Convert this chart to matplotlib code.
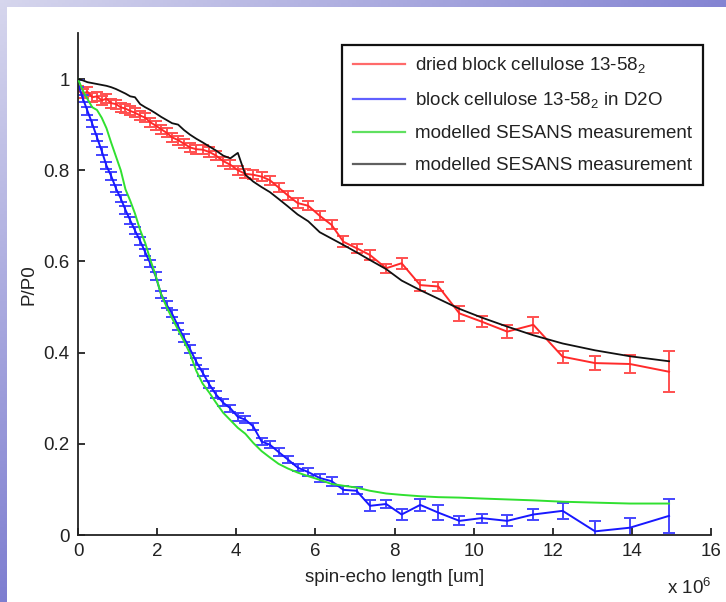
import numpy as np
import matplotlib
matplotlib.use("Agg")
import matplotlib.pyplot as plt
from matplotlib.lines import Line2D

plt.rcParams['font.family'] = ['Liberation Sans', 'DejaVu Sans']
plt.rcParams['mathtext.fontset'] = 'custom'
plt.rcParams['mathtext.rm'] = 'Liberation Sans'
plt.rcParams['mathtext.it'] = 'Liberation Sans:italic'

# spin-echo length, in units of 10^6
spin_echo = [0.00, 0.12, 0.24, 0.36, 0.48, 0.60, 0.72, 0.84, 0.96, 1.08,
             1.20, 1.32, 1.44, 1.57, 1.70, 1.83, 1.96, 2.10, 2.24, 2.38,
             2.53, 2.68, 2.83, 2.99, 3.15, 3.32, 3.49, 3.67, 3.85, 4.04,
             4.23, 4.43, 4.64, 4.85, 5.07, 5.30, 5.55, 5.82, 6.11, 6.41,
             6.71, 7.04, 7.38, 7.79, 8.18, 8.65, 9.11, 9.64, 10.20, 10.85,
             11.51, 12.25, 13.07, 13.95, 14.94]

dried = [0.975, 0.968, 0.972, 0.960, 0.962, 0.953, 0.957, 0.947, 0.945, 0.938,
         0.935, 0.930, 0.926, 0.920, 0.915, 0.905, 0.898, 0.890, 0.882, 0.872,
         0.866, 0.858, 0.850, 0.846, 0.845, 0.840, 0.832, 0.820, 0.812, 0.800,
         0.792, 0.790, 0.786, 0.778, 0.762, 0.745, 0.728, 0.722, 0.700, 0.680,
         0.643, 0.629, 0.614, 0.585, 0.596, 0.548, 0.545, 0.486, 0.468, 0.446,
         0.461, 0.391, 0.377, 0.375, 0.358]
dried_err = [0.010] * 39 + [0.010, 0.012, 0.010, 0.012, 0.010, 0.012, 0.012,
                            0.010, 0.016, 0.012, 0.015, 0.018, 0.013, 0.015,
                            0.020, 0.045]

wet = [0.990, 0.958, 0.930, 0.902, 0.872, 0.842, 0.810, 0.787, 0.760, 0.738,
       0.713, 0.690, 0.668, 0.645, 0.620, 0.595, 0.568, 0.528, 0.505, 0.485,
       0.458, 0.432, 0.408, 0.380, 0.356, 0.330, 0.308, 0.290, 0.278, 0.259,
       0.253, 0.238, 0.205, 0.198, 0.182, 0.166, 0.148, 0.138, 0.125, 0.118,
       0.099, 0.097, 0.064, 0.068, 0.045, 0.066, 0.049, 0.031, 0.037, 0.031,
       0.045, 0.053, 0.008, 0.016, 0.042]
wet_err = [0.008] * 39 + [0.010, 0.008, 0.008, 0.012, 0.008, 0.012, 0.013,
                          0.016, 0.010, 0.010, 0.012, 0.013, 0.017, 0.022,
                          0.021, 0.037]

model_wet = [1.000, 0.975, 0.956, 0.938, 0.932, 0.915, 0.892, 0.860, 0.830, 0.800,
             0.758, 0.733, 0.705, 0.669, 0.640, 0.603, 0.570, 0.528, 0.500, 0.475,
             0.450, 0.425, 0.398, 0.360, 0.332, 0.312, 0.290, 0.268, 0.252, 0.235,
             0.222, 0.202, 0.184, 0.170, 0.156, 0.146, 0.137, 0.129, 0.121, 0.112,
             0.108, 0.104, 0.097, 0.091, 0.088, 0.085, 0.083, 0.082, 0.080, 0.078,
             0.076, 0.073, 0.071, 0.069, 0.069]

model_dried = [1.000, 0.997, 0.993, 0.991, 0.989, 0.987, 0.985, 0.982, 0.978, 0.973,
               0.968, 0.962, 0.960, 0.945, 0.938, 0.932, 0.925, 0.917, 0.910, 0.903,
               0.900, 0.888, 0.878, 0.869, 0.861, 0.852, 0.843, 0.832, 0.826, 0.838,
               0.790, 0.775, 0.763, 0.752, 0.737, 0.721, 0.703, 0.688, 0.664, 0.650,
               0.636, 0.620, 0.603, 0.583, 0.558, 0.537, 0.518, 0.496, 0.477, 0.457,
               0.438, 0.420, 0.405, 0.392, 0.381]

labels = ['dried block cellulose 13-58$\\mathregular{_2}$',
          'block cellulose 13-58$\\mathregular{_2}$ in D2O',
          'modelled SESANS measurement',
          'modelled SESANS measurement']

x_ticks = [0, 2, 4, 6, 8, 10, 12, 14, 16]
y_ticks = [0, 0.2, 0.4, 0.6, 0.8, 1.0]
y_tick_labels = ['0', '0.2', '0.4', '0.6', '0.8', '1']

W, H = 726, 602
fs = 13.5
fig = plt.figure(figsize=(W / 100, H / 100), dpi=100)

# slide background: soft blue gradient with a white panel on top
bg = fig.add_axes([0, 0, 1, 1], zorder=-10)
gx, gy = np.meshgrid(np.linspace(0, 1, 200), np.linspace(0, 1, 200))
t = np.clip(0.7 * gx + 0.75 * gy, 0, 1)
light = np.array([0.84, 0.84, 0.93])
dark = np.array([0.38, 0.38, 0.78])
grad = light[None, None, :] * (1 - t[..., None]) + dark[None, None, :] * t[..., None]
bg.imshow(grad, extent=[0, 1, 0, 1], aspect='auto', origin='upper')
bg.add_patch(plt.Rectangle((7 / W, 0), 1, (H - 7) / H, color='white', lw=0))
bg.set_xlim(0, 1)
bg.set_ylim(0, 1)
bg.axis('off')

ax = fig.add_axes([78 / W, 67 / H, 633 / W, 501.6 / H])
ax.patch.set_alpha(0)

text_color = '#222222'
ax.errorbar(spin_echo, dried, yerr=dried_err, color='#ff2a2a', ecolor='#ff5050',
            lw=1.4, elinewidth=1.4, capsize=4.5, capthick=1.4, zorder=2)
ax.errorbar(spin_echo, wet, yerr=wet_err, color='#1818ff', ecolor='#4545ff',
            lw=1.4, elinewidth=1.4, capsize=4.5, capthick=1.4, zorder=2)
ax.plot(spin_echo, model_wet, color='#30e030', lw=1.4, zorder=3)
ax.plot(spin_echo, model_dried, color='#111111', lw=1.3, zorder=3)

ax.set_xlim(0, 16)
ax.set_ylim(0, 1.1)
ax.set_xticks(x_ticks)
ax.set_yticks(y_ticks)
ax.set_yticklabels(y_tick_labels)
for s in ['top', 'right']:
    ax.spines[s].set_visible(False)
for s in ['left', 'bottom']:
    ax.spines[s].set_linewidth(1.3)
    ax.spines[s].set_color('#222222')
ax.tick_params(direction='in', length=5, width=1.3, labelsize=fs,
               colors=text_color, pad=6)

ax.set_xlabel('spin-echo length [um]', fontsize=fs, color=text_color, labelpad=6)
ax.set_ylabel('P/P0', fontsize=fs, color=text_color, labelpad=4)
ax.text(1.0, -0.085, 'x 10$\\mathregular{^6}$', transform=ax.transAxes,
        ha='right', va='top', fontsize=fs, color=text_color)

handles = [Line2D([], [], color='#ff6a6a', lw=1.6),
           Line2D([], [], color='#6060ff', lw=1.6),
           Line2D([], [], color='#60e060', lw=1.6),
           Line2D([], [], color='#606060', lw=1.6)]
leg = ax.legend(handles, labels, loc='upper right', bbox_to_anchor=(0.987, 0.977),
                borderaxespad=0, fontsize=fs, handlelength=2.8, handletextpad=0.55,
                labelspacing=0.8, fancybox=False, framealpha=1, borderpad=0.55)
leg.get_frame().set_edgecolor('#111111')
leg.get_frame().set_linewidth(1.6)
for txt in leg.get_texts():
    txt.set_color(text_color)

fig.savefig('out.png', dpi=100)
